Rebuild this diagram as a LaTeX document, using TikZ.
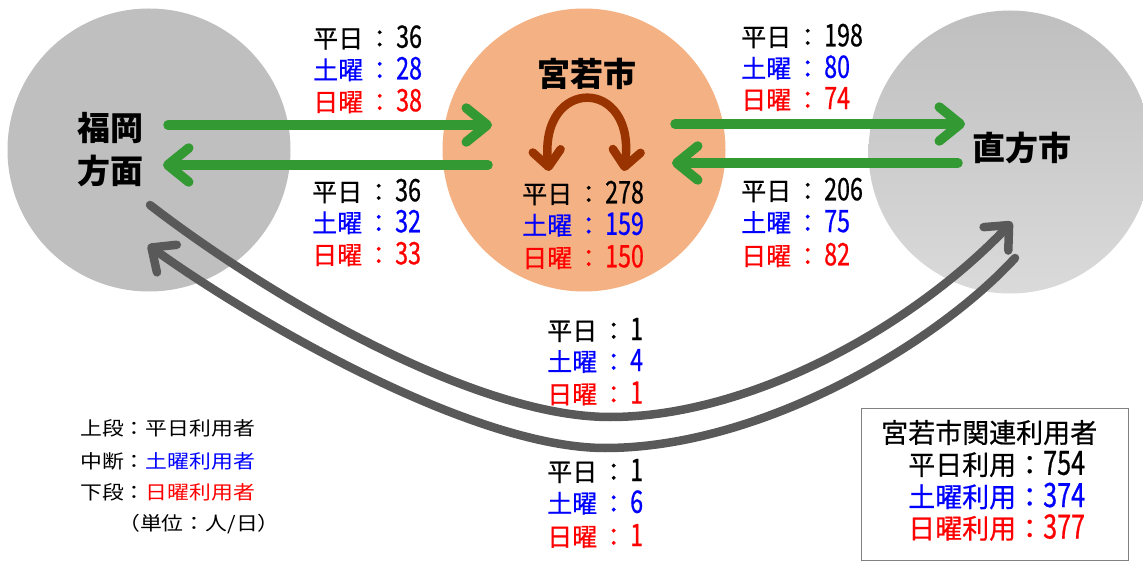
\documentclass[tikz,border=0pt]{standalone}
\usepackage{fontspec}
\setmainfont{Noto Sans CJK JP}[FakeBold=0.6]
\newfontfamily\digfont{Noto Sans CJK JP}[FakeStretch=0.75, FakeBold=0.6]
\newfontfamily\legfont{Noto Sans CJK JP}[FakeStretch=1.15]
\newfontfamily\namefont{Noto Sans CJK JP}
\usetikzlibrary{arrows.meta,shapes.geometric}
\definecolor{cgray}{HTML}{BFBFBF}
\definecolor{cgrayb}{HTML}{DADADA}
\definecolor{corange}{HTML}{F4B183}
\definecolor{cgreen}{HTML}{339933}
\definecolor{cbrown}{HTML}{993300}
\definecolor{cdark}{HTML}{595959}
\definecolor{cblue}{HTML}{0000FF}
\definecolor{cred}{HTML}{FF0000}
\definecolor{cbox}{HTML}{808080}
\newcommand\nm[1]{{\digfont\fontsize{31}{31}\selectfont #1}}
\newcommand\nb[1]{{\digfont\fontsize{33.5}{33.5}\selectfont #1}}
\newcommand\cl{\hspace{4pt}：\hspace{4pt}}
\begin{document}
\begin{tikzpicture}[x=1pt,y=-1pt,
  city/.style={circle, minimum size=283pt, inner sep=0pt},
  bigname/.style={inner sep=0pt, font=\namefont\fontsize{33}{40}\selectfont\bfseries},
  row/.style={anchor=west, inner sep=0pt, font=\fontsize{25}{25}\selectfont},
  wk/.style={row},
  st/.style={row, text=cblue},
  sn/.style={row, text=cred},
  brow/.style={anchor=west, inner sep=0pt, font=\fontsize{27}{27}\selectfont},
  leg/.style={anchor=west, inner sep=0pt, font=\legfont\fontsize{19}{19}\selectfont},
  garrow/.style={draw=cgreen, line width=9.5pt, line cap=round,
    -{Straight Barb[length=21pt, width=34pt, line cap=round, line join=round]}},
  darrow/.style={draw=cdark, line width=8.5pt, line cap=round,
    -{Straight Barb[length=19pt, width=34pt, line cap=round, line join=round]}},
  barrow/.style={draw=cbrown, line width=8.5pt, line cap=round,
    {Straight Barb[length=16pt, width=28pt, line cap=round, line join=round]}-{Straight Barb[length=16pt, width=28pt, line cap=round, line join=round]}}
]
\useasboundingbox (0,0) rectangle (1143,561);
% circles
\node[city, fill=cgray] (fuk) at (149,150) {};
\node[city, fill=corange] (miya) at (584,150) {};
\node[city, top color=cgray, middle color=cgray!95!cgrayb, bottom color=cgrayb] (noo) at (1010,152) {};
% names
\node[bigname] (fukA) at (110,128) {福岡};
\node[bigname] (fukB) at (110,171) {方面};
\node[bigname] (miyaN) at (587,74) {宮若市};
\node[bigname] (nooN) at (1022,148) {直方市};
% green arrows
\coordinate (gA1) at (168,125); \coordinate (gA2) at (492,125);
\coordinate (gB1) at (488,165); \coordinate (gB2) at (163,165);
\coordinate (gC1) at (675,124); \coordinate (gC2) at (965,124);
\coordinate (gD1) at (958,163); \coordinate (gD2) at (672,163);
\draw[garrow] (gA1) -- (gA2);
\draw[garrow] (gB1) -- (gB2);
\draw[garrow] (gC1) -- (gC2);
\draw[garrow] (gD1) -- (gD2);
% brown loop
\coordinate (bA) at (549,171); \coordinate (bB) at (624,171);
\draw[barrow] (bA) .. controls (538,76) and (637,76) .. (bB);
% dark curves
\coordinate (iS) at (150,205); \coordinate (iM) at (610,417); \coordinate (iE) at (1012,222);
\coordinate (oS) at (1015,258); \coordinate (oM) at (605,448); \coordinate (oE) at (148,245);
\draw[darrow] (iS) .. controls (260,290) and (470,417) .. (iM) .. controls (750,417) and (912,327) .. (iE);
\draw[darrow] (oS) .. controls (935,345) and (760,448) .. (oM) .. controls (470,448) and (248,317) .. (oE);
% labels left top
\node[wk] (a1) at (313,37.5) {平日\cl\nm{36}};
\node[st] (a2) at (313,69) {土曜\cl\nm{28}};
\node[sn] (a3) at (313,101) {日曜\cl\nm{38}};
% left bottom
\node[wk] (b1) at (312,191) {平日\cl\nm{36}};
\node[st] (b2) at (312,222) {土曜\cl\nm{32}};
\node[sn] (b3) at (312,254) {日曜\cl\nm{33}};
% right top
\node[wk] (c1) at (741,36) {平日\cl\nm{198}};
\node[st] (c2) at (741,67.5) {土曜\cl\nm{80}};
\node[sn] (c3) at (741,99) {日曜\cl\nm{74}};
% right bottom
\node[wk] (d1) at (741,190) {平日\cl\nm{206}};
\node[st] (d2) at (741,222) {土曜\cl\nm{75}};
\node[sn] (d3) at (741,255) {日曜\cl\nm{82}};
% center
\node[wk] (e1) at (522,193) {平日\cl\nm{278}};
\node[st] (e2) at (522,224.5) {土曜\cl\nm{159}};
\node[sn] (e3) at (522,257) {日曜\cl\nm{150}};
% middle upper
\node[wk] (f1) at (547,330) {平日\cl\nm{1}};
\node[st] (f2) at (547,361) {土曜\cl\nm{4}};
\node[sn] (f3) at (547,393.5) {日曜\cl\nm{1}};
% middle lower
\node[wk] (h1) at (547,471) {平日\cl\nm{1}};
\node[st] (h2) at (547,502.5) {土曜\cl\nm{6}};
\node[sn] (h3) at (547,536) {日曜\cl\nm{1}};
% legend
\node[leg] (g1) at (80,428.5) {上段：平日利用者};
\node[leg] (g2) at (80,461) {中断：\textcolor{cblue}{土曜利用者}};
\node[leg] (g3) at (80,492.5) {下段：\textcolor{cred}{日曜利用者}};
\node[leg] (g4) at (118,524) {（単位：人/日）};
% summary box
\node[draw=cbox, line width=1.3pt, anchor=north west, minimum width=267pt, minimum height=152pt, inner sep=0pt] (box) at (861,408) {};
\node[brow] (k1) at (881,432.5) {宮若市関連利用者};
\node[brow] (k2) at (908,464) {平日利用：\nb{754}};
\node[brow, text=cblue] (k3) at (908,496) {土曜利用：\nb{374}};
\node[brow, text=cred] (k4) at (908,527.5) {日曜利用：\nb{377}};
\end{tikzpicture}
\end{document}
